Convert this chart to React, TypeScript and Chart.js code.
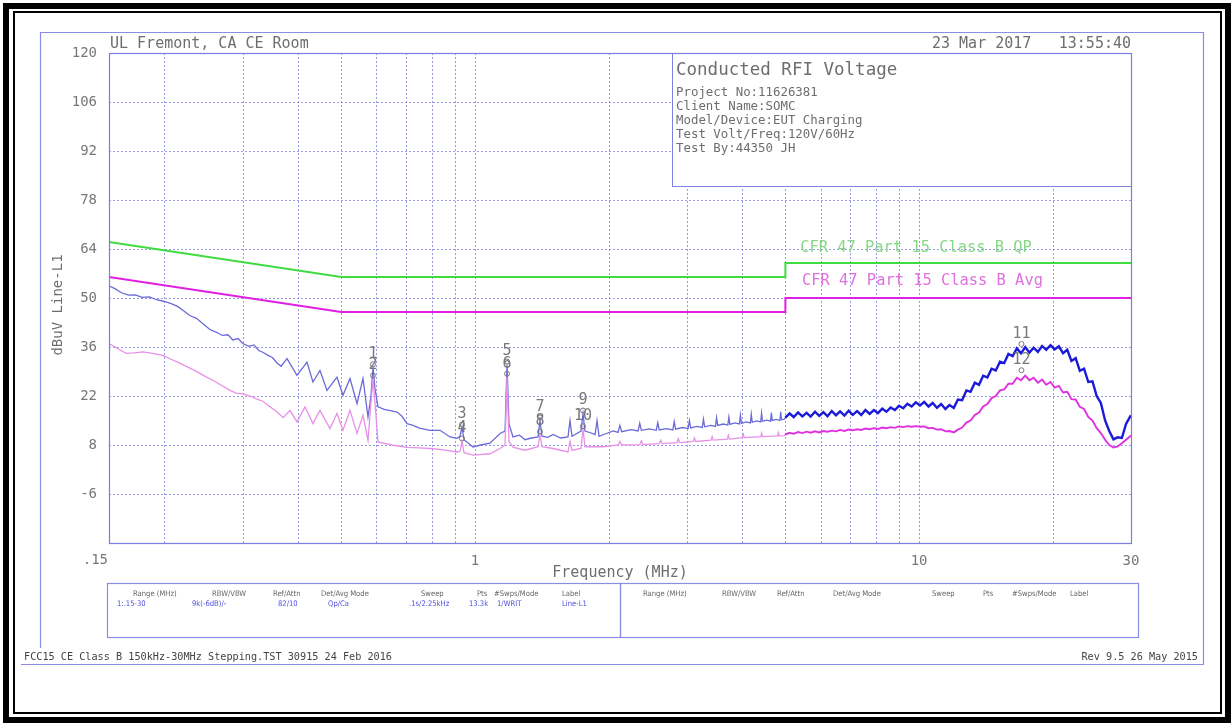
import { useEffect, useRef } from 'react';
import { Chart, registerables } from 'chart.js';
Chart.register(...registerables);

const MONO = '"DejaVu Sans Mono", monospace';
const NARROW = '"Liberation Sans Narrow", "DejaVu Sans Condensed", "DejaVu Sans", sans-serif';

// ---- data (MHz, dBuV) ----
const qpFreqLow = [0.15, 0.155, 0.16, 0.166, 0.172, 0.178, 0.185, 0.192, 0.2, 0.207, 0.214, 0.22, 0.228, 0.236, 0.245, 0.253, 0.262, 0.27, 0.278, 0.285, 0.293, 0.3, 0.31, 0.318, 0.326, 0.333, 0.342, 0.35, 0.358, 0.366, 0.3775, 0.3975, 0.4186, 0.4318, 0.4478, 0.4644, 0.4891, 0.5045, 0.5232, 0.5426, 0.5597, 0.5744, 0.5834, 0.5895, 0.5957, 0.605, 0.625, 0.645, 0.6677, 0.685, 0.7034, 0.725, 0.75, 0.7923, 0.8343, 0.8788, 0.9112, 0.9255, 0.9352, 0.9449, 0.99, 1.03, 1.081, 1.139, 1.169, 1.181, 1.193, 1.218, 1.26, 1.296, 1.34, 1.387, 1.401, 1.416, 1.46, 1.499, 1.56, 1.62, 1.637, 1.654, 1.733, 1.751, 1.769, 1.82, 1.864, 1.883, 1.903];
const qpLevelLow = [53.5, 52.6, 51.5, 50.8, 50.9, 50.2, 50.3, 49.5, 49.0, 48.4, 47.6, 46.5, 45.0, 44.2, 42.5, 41.0, 40.2, 39.3, 39.5, 38.0, 38.4, 37.0, 36.2, 36.6, 35.0, 34.5, 33.6, 33.0, 31.5, 30.5, 32.7, 27.9, 31.7, 26.0, 29.3, 23.6, 27.4, 22.2, 27.0, 19.8, 27.0, 16.0, 22.0, 30.2, 24.0, 18.9, 18.2, 17.8, 17.4, 16.2, 14.1, 13.6, 12.8, 12.2, 12.2, 10.3, 9.9, 10.5, 13.0, 9.5, 7.4, 8.0, 8.5, 11.3, 12.0, 31.0, 14.0, 10.3, 10.8, 9.5, 10.0, 10.3, 15.0, 10.5, 10.2, 11.0, 10.0, 10.3, 15.0, 10.5, 12.0, 17.0, 12.0, 11.5, 11.0, 15.0, 10.5];
const qpFreqMid = [1.95, 2.05, 2.1, 2.12, 2.14, 2.25, 2.33, 2.35, 2.37, 2.47, 2.56, 2.58, 2.6, 2.7, 2.79, 2.81, 2.83, 2.93, 3.02, 3.04, 3.06, 3.16, 3.25, 3.27, 3.29, 3.4, 3.48, 3.5, 3.52, 3.62, 3.71, 3.73, 3.75, 3.85, 3.94, 3.96, 3.98, 4.08, 4.17, 4.19, 4.21, 4.31, 4.4, 4.42, 4.44, 4.54, 4.63, 4.65, 4.67, 4.77, 4.86, 4.88, 4.9, 4.97];
const qpLevelMid = [11.0, 12.0, 11.6, 13.6, 11.8, 12.4, 12.0, 14.2, 12.2, 12.6, 12.2, 14.4, 12.3, 12.7, 12.3, 14.7, 12.5, 13.0, 12.7, 15.0, 12.9, 13.3, 13.0, 15.4, 13.2, 13.6, 13.3, 15.8, 13.6, 14.0, 13.7, 16.0, 13.9, 14.3, 14.0, 16.5, 14.2, 14.6, 14.3, 16.8, 14.5, 14.9, 14.6, 17.1, 14.8, 15.1, 14.8, 17.3, 15.0, 15.3, 15.0, 17.5, 15.2, 15.4];
const qpFreqHigh = [5.0, 5.11, 5.22, 5.34, 5.46, 5.58, 5.7, 5.83, 5.96, 6.09, 6.22, 6.36, 6.5, 6.64, 6.79, 6.94, 7.09, 7.25, 7.41, 7.57, 7.74, 7.91, 8.08, 8.26, 8.44, 8.63, 8.82, 9.01, 9.21, 9.41, 9.62, 9.83, 10.05, 10.27, 10.5, 10.73, 10.97, 11.21, 11.46, 11.71, 11.97, 12.23, 12.5, 12.78, 13.06, 13.35, 13.64, 13.94, 14.25, 14.56, 14.88, 15.21, 15.55, 15.89, 16.24, 16.6, 16.96, 17.34, 17.72, 18.11, 18.51, 18.92, 19.33, 19.76, 20.19, 20.64, 21.09, 21.56, 22.03, 22.52, 23.01, 23.52, 24.04, 24.57, 25.11, 25.66, 26.23, 26.8, 27.39, 28.0, 28.61, 29.24, 29.88, 30.0];
const qpLevelHigh = [15.8, 17.0, 16.0, 17.3, 16.2, 17.2, 16.1, 17.5, 16.3, 17.4, 16.2, 17.7, 16.5, 17.6, 16.4, 17.8, 16.6, 17.7, 16.6, 18.0, 16.9, 18.0, 17.1, 18.4, 17.5, 18.7, 18.0, 19.2, 18.5, 19.8, 19.0, 20.2, 19.3, 20.3, 19.0, 20.0, 18.6, 19.7, 18.3, 19.4, 18.6, 21.0, 20.8, 23.6, 23.2, 25.8, 25.2, 27.8, 27.3, 29.8, 29.3, 31.8, 31.4, 34.0, 33.4, 35.6, 34.2, 36.0, 34.4, 35.8, 34.6, 36.3, 35.2, 36.5, 35.3, 36.2, 34.2, 35.2, 32.0, 32.8, 29.2, 29.8, 26.0, 26.2, 22.0, 20.0, 15.0, 12.0, 9.6, 10.2, 10.0, 14.0, 16.2, 16.0];

const avFreqLow = [0.15, 0.157, 0.164, 0.171, 0.179, 0.188, 0.198, 0.207, 0.217, 0.227, 0.237, 0.247, 0.257, 0.269, 0.281, 0.29, 0.3, 0.312, 0.322, 0.333, 0.345, 0.358, 0.37, 0.3834, 0.3975, 0.4143, 0.4318, 0.4478, 0.4717, 0.4891, 0.5045, 0.5232, 0.5426, 0.5597, 0.5744, 0.5834, 0.5895, 0.5957, 0.605, 0.65, 0.7034, 0.75, 0.7923, 0.85, 0.9112, 0.9255, 0.9352, 0.9449, 0.99, 1.081, 1.139, 1.169, 1.181, 1.193, 1.218, 1.296, 1.387, 1.401, 1.416, 1.499, 1.62, 1.637, 1.654, 1.733, 1.751, 1.769, 1.903];
const avLevelLow = [37.0, 35.5, 34.2, 34.3, 34.6, 34.2, 33.6, 32.5, 31.3, 30.1, 28.9, 27.6, 26.5, 25.0, 23.6, 22.8, 22.6, 22.0, 21.2, 20.5, 19.0, 17.5, 15.8, 17.9, 14.6, 18.9, 14.1, 17.9, 12.7, 17.0, 12.2, 17.9, 11.3, 16.5, 9.3, 20.0, 27.0, 20.0, 8.9, 8.0, 7.3, 7.2, 7.0, 6.6, 6.0, 6.2, 9.0, 5.8, 5.1, 5.5, 7.0, 8.0, 27.5, 9.0, 7.4, 6.5, 7.5, 11.0, 7.5, 7.0, 6.0, 9.0, 6.5, 7.0, 12.5, 7.5, 7.5];
const avFreqMid = [1.95, 2.1, 2.12, 2.14, 2.35, 2.37, 2.39, 2.6, 2.62, 2.64, 2.85, 2.87, 2.89, 3.1, 3.12, 3.14, 3.4, 3.42, 3.44, 3.7, 3.72, 3.74, 4.0, 4.02, 4.04, 4.4, 4.42, 4.44, 4.8, 4.82, 4.84, 4.97];
const avLevelMid = [7.5, 8.0, 9.0, 8.0, 8.1, 9.2, 8.1, 8.4, 9.4, 8.4, 8.7, 9.8, 8.7, 9.0, 10.0, 9.0, 9.4, 10.4, 9.4, 9.7, 10.8, 9.7, 10.1, 11.0, 10.1, 10.4, 11.4, 10.4, 10.6, 11.5, 10.6, 10.7];
const avFreqHigh = [5.0, 5.11, 5.22, 5.34, 5.46, 5.58, 5.7, 5.83, 5.96, 6.09, 6.22, 6.36, 6.5, 6.64, 6.79, 6.94, 7.09, 7.25, 7.41, 7.57, 7.74, 7.91, 8.08, 8.26, 8.44, 8.63, 8.82, 9.01, 9.21, 9.41, 9.62, 9.83, 10.05, 10.27, 10.5, 10.73, 10.97, 11.21, 11.46, 11.71, 11.97, 12.23, 12.5, 12.78, 13.06, 13.35, 13.64, 13.94, 14.25, 14.56, 14.88, 15.21, 15.55, 15.89, 16.24, 16.6, 16.96, 17.34, 17.72, 18.11, 18.51, 18.92, 19.33, 19.76, 20.19, 20.64, 21.09, 21.56, 22.03, 22.52, 23.01, 23.52, 24.04, 24.57, 25.11, 25.66, 26.23, 26.8, 27.39, 28.0, 28.61, 29.24, 29.88, 30.0];
const avLevelHigh = [11.0, 11.5, 11.2, 11.7, 11.4, 11.8, 11.5, 11.9, 11.6, 12.0, 11.8, 12.1, 11.9, 12.3, 12.0, 12.4, 12.2, 12.5, 12.3, 12.7, 12.5, 12.8, 12.6, 13.0, 12.8, 13.1, 12.9, 13.3, 13.1, 13.4, 13.2, 13.4, 13.2, 13.3, 12.8, 12.9, 12.4, 12.5, 11.9, 12.0, 11.6, 12.4, 13.0, 14.4, 15.0, 16.6, 17.3, 19.0, 19.7, 21.4, 22.0, 23.6, 23.9, 25.5, 25.5, 27.2, 26.5, 27.8, 26.5, 27.2, 25.8, 26.7, 25.2, 26.0, 24.4, 24.9, 23.0, 23.2, 21.1, 21.0, 18.9, 18.3, 16.0, 15.0, 12.8, 11.4, 9.5, 8.0, 7.3, 7.6, 8.5, 9.5, 10.5, 10.8];

const qpLimitFreq = [0.15, 0.5, 5, 5, 30];
const qpLimitLevel = [66, 56, 56, 60, 60];
const avLimitFreq = [0.15, 0.5, 5, 5, 30];
const avLimitLevel = [56, 46, 46, 50, 50];

const gridFreqs = [0.15, 0.2, 0.3, 0.4, 0.5, 0.6, 0.7, 0.8, 0.9, 1, 2, 3, 4, 5, 6, 7, 8, 9, 10, 20, 30];
const xLabelFreqs = [0.15, 1, 10, 30];
const xLabelTexts = ['.15', '1', '10', '30'];
const yMin = -20;
const yMax = 120;
const yStep = 14;

const markerFreq = [0.5895, 0.5895, 0.9352, 0.9352, 1.181, 1.181, 1.401, 1.401, 1.751, 1.751, 17.0, 17.0];
const markerLevel = [30.2, 27.0, 13.0, 9.0, 31.0, 27.5, 15.0, 11.0, 17.0, 12.5, 36.0, 28.5];
const markerText = ['1', '2', '3', '4', '5', '6', '7', '8', '9', '10', '11', '12'];

const infoTitle = 'Conducted RFI Voltage';
const infoLines = ['Project No:11626381', 'Client Name:SOMC', 'Model/Device:EUT Charging', 'Test Volt/Freq:120V/60Hz', 'Test By:44350 JH'];
const tableHeaders = ['Range (MHz)', 'RBW/VBW', 'Ref/Attn', 'Det/Avg Mode', 'Sweep', 'Pts', '#Swps/Mode', 'Label'];
const tableValues = ['1:.15-30', '9k(-6dB)/-', '82/10', 'Qp/Ca', '.1s/2.25kHz', '13.3k', '1/WRIT', 'Line-L1'];

const W = 1231;
const H = 723;
const TXT = '#6e6e6e';

function txt(ctx: CanvasRenderingContext2D, s: string, x: number, y: number, font: string, color: string, align: CanvasTextAlign = 'left') {
  ctx.save();
  ctx.font = font;
  ctx.fillStyle = color;
  ctx.textAlign = align;
  ctx.textBaseline = 'middle';
  ctx.fillText(s, x, y);
  ctx.restore();
}

const decor = {
  id: 'decor',
  beforeDraw(chart: any) {
    const ctx = chart.ctx;
    ctx.save();
    ctx.fillStyle = '#ffffff';
    ctx.fillRect(0, 0, W, H);
    ctx.restore();
  },
  beforeDatasetsDraw(chart: any) {
    const { ctx, chartArea: a, scales } = chart;
    const xs = scales.x;
    const ys = scales.y;
    ctx.save();
    ctx.strokeStyle = '#9a9aec';
    ctx.lineWidth = 1;
    ctx.setLineDash([2, 2]);
    for (const f of gridFreqs) {
      const px = Math.round(xs.getPixelForValue(f)) + 0.5;
      ctx.beginPath();
      ctx.moveTo(px, a.top);
      ctx.lineTo(px, a.bottom);
      ctx.stroke();
    }
    for (let v = yMin; v <= yMax; v += yStep) {
      const py = Math.round(ys.getPixelForValue(v)) + 0.5;
      ctx.beginPath();
      ctx.moveTo(a.left, py);
      ctx.lineTo(a.right, py);
      ctx.stroke();
    }
    ctx.setLineDash([]);
    const bx = 672, by = a.top, bw = a.right - 672, bh = 186 - a.top;
    ctx.fillStyle = '#ffffff';
    ctx.fillRect(bx, by, bw, bh);
    ctx.strokeStyle = '#8080e0';
    ctx.strokeRect(bx + 0.5, by + 0.5, bw, bh);
    ctx.restore();
    txt(ctx, infoTitle, 676, 70, `17.5px ${MONO}`, TXT);
    infoLines.forEach((s, i) => txt(ctx, s, 676, 93 + i * 13.9, `12.4px ${MONO}`, TXT));
    txt(ctx, 'CFR 47 Part 15 Class B QP', xs.getPixelForValue(5.4), ys.getPixelForValue(64.3), `15.4px ${MONO}`, '#86d886');
    txt(ctx, 'CFR 47 Part 15 Class B Avg', xs.getPixelForValue(5.45), ys.getPixelForValue(55), `15.4px ${MONO}`, '#e070e0');
  },
  afterDatasetsDraw(chart: any) {
    const { ctx, chartArea: a, scales } = chart;
    const xs = scales.x;
    const ys = scales.y;
    markerFreq.forEach((f, i) => {
      const px = xs.getPixelForValue(f);
      const py = ys.getPixelForValue(markerLevel[i]);
      ctx.save();
      ctx.strokeStyle = '#787878';
      ctx.lineWidth = 1;
      ctx.beginPath();
      ctx.arc(px, py - 3, 2.5, 0, Math.PI * 2);
      ctx.stroke();
      ctx.restore();
      txt(ctx, markerText[i], px, py - 13, `15px ${MONO}`, '#787878', 'center');
    });
    ctx.save();
    ctx.strokeStyle = '#7c7ce0';
    ctx.lineWidth = 1.2;
    ctx.strokeRect(Math.round(a.left) + 0.5, Math.round(a.top) + 0.5, Math.round(a.right - a.left), Math.round(a.bottom - a.top));
    ctx.restore();
  },
  afterDraw(chart: any) {
    const { ctx, chartArea: a, scales } = chart;
    ctx.save();
    ctx.strokeStyle = '#000000';
    ctx.lineWidth = 6;
    ctx.strokeRect(6, 6, W - 9, H - 9);
    ctx.lineWidth = 2;
    ctx.strokeRect(14, 12, W - 24, H - 22);
    ctx.strokeStyle = '#8c8ce6';
    ctx.lineWidth = 1.2;
    ctx.beginPath();
    ctx.moveTo(40.5, 648);
    ctx.lineTo(40.5, 32.5);
    ctx.lineTo(1203.5, 32.5);
    ctx.lineTo(1203.5, 664.5);
    ctx.lineTo(21, 664.5);
    ctx.stroke();
    ctx.strokeRect(107.5, 583.5, 513, 54);
    ctx.strokeRect(620.5, 583.5, 518, 54);
    ctx.restore();
    // first x label sits flush left of the axis start
    txt(ctx, xLabelTexts[0], scales.x.getPixelForValue(xLabelFreqs[0]) - 1, 560, `14px ${MONO}`, '#777777', 'right');
    txt(ctx, 'UL Fremont, CA CE Room', a.left + 1, 44, `15px ${MONO}`, TXT);
    txt(ctx, '23 Mar 2017', 932, 44, `15px ${MONO}`, TXT);
    txt(ctx, '13:55:40', a.right, 44, `15px ${MONO}`, TXT, 'right');
    txt(ctx, 'Frequency (MHz)', (a.left + a.right) / 2, 573, `15px ${MONO}`, TXT, 'center');
    ctx.save();
    ctx.translate(58, 305);
    ctx.rotate(-Math.PI / 2);
    txt(ctx, 'dBuV Line-L1', 0, 0, `14px ${MONO}`, TXT, 'center');
    ctx.restore();
    const leftCols = [133, 212, 273, 321, 421, 477, 494, 562];
    const leftVals = [117, 192, 278, 328, 409, 469, 497, 562];
    const rightCols = [643, 722, 777, 833, 932, 983, 1012, 1070];
    tableHeaders.forEach((s, i) => {
      txt(ctx, s, leftCols[i], 594, `7.6px ${NARROW}`, '#666666');
      txt(ctx, s, rightCols[i], 594, `7.6px ${NARROW}`, '#666666');
      txt(ctx, tableValues[i], leftVals[i], 604, `7.6px ${NARROW}`, '#5050e0');
    });
    txt(ctx, 'FCC15 CE Class B 150kHz-30MHz Stepping.TST 30915 24 Feb 2016', 24, 657, `10.2px ${MONO}`, '#444444');
    txt(ctx, 'Rev 9.5 26 May 2015', 1198, 657, `10.2px ${MONO}`, '#444444', 'right');
  },
};

function pts(fs: number[], vs: number[]) {
  return fs.map((f, i) => ({ x: f, y: vs[i] }));
}

export default function App() {
  const ref = useRef<HTMLCanvasElement | null>(null);
  useEffect(() => {
    document.body.style.margin = '0';
    const canvas = ref.current!;
    const qpData = [...pts(qpFreqLow, qpLevelLow), ...pts(qpFreqMid, qpLevelMid), ...pts(qpFreqHigh, qpLevelHigh)];
    const avData = [...pts(avFreqLow, avLevelLow), ...pts(avFreqMid, avLevelMid), ...pts(avFreqHigh, avLevelHigh)];
    const chart = new Chart(canvas, {
      type: 'line',
      data: {
        datasets: [
          { label: 'QP limit', data: pts(qpLimitFreq, qpLimitLevel), borderColor: '#3edc3e', borderWidth: 2, pointRadius: 0, tension: 0 },
          { label: 'Avg limit', data: pts(avLimitFreq, avLimitLevel), borderColor: '#e020e0', borderWidth: 2, pointRadius: 0, tension: 0 },
          {
            label: 'Avg', data: avData, borderWidth: 1.3, pointRadius: 0, tension: 0, borderColor: '#e050e0',
            segment: {
              borderColor: (c: any) => (c.p0.parsed.x < 5 ? '#e890e8' : '#e030e0'),
              borderWidth: (c: any) => (c.p0.parsed.x < 5 ? 1.3 : 1.9),
            },
          },
          {
            label: 'Peak', data: qpData, borderWidth: 1.3, pointRadius: 0, tension: 0, borderColor: '#3030d0',
            segment: {
              borderColor: (c: any) => (c.p0.parsed.x < 5 ? '#6a6ad8' : '#1a1ad8'),
              borderWidth: (c: any) => (c.p0.parsed.x < 5 ? 1.3 : 2.4),
            },
          },
        ],
      },
      options: {
        animation: false,
        responsive: false,
        maintainAspectRatio: false,
        parsing: false as any,
        layout: { padding: { left: 49, right: 100, top: 53, bottom: 150 } },
        plugins: { legend: { display: false }, tooltip: { enabled: false }, title: { display: false } },
        scales: {
          x: {
            type: 'logarithmic',
            min: 0.15,
            max: 30,
            afterFit: (s: any) => { s.height = 30; },
            afterBuildTicks: (s: any) => { s.ticks = gridFreqs.map((v) => ({ value: v })); },
            grid: { display: false },
            border: { display: false },
            ticks: {
              autoSkip: false,
              maxRotation: 0,
              padding: 2,
              color: '#777777',
              font: { family: MONO, size: 14 },
              callback: (v: any) => {
                const i = xLabelFreqs.findIndex((f) => Math.abs(f - Number(v)) < 1e-6);
                return i > 0 ? xLabelTexts[i] : '';
              },
            },
          },
          y: {
            type: 'linear',
            min: yMin,
            max: yMax,
            afterFit: (s: any) => { s.width = 60; },
            grid: { display: false },
            border: { display: false },
            ticks: {
              stepSize: yStep,
              padding: 4,
              color: '#777777',
              font: { family: MONO, size: 14 },
              callback: (v: any) => (Number(v) === yMin ? '' : String(v)),
            },
          },
        },
      },
      plugins: [decor],
    });
    return () => chart.destroy();
  }, []);
  return (
    <div style={{ position: 'absolute', left: 0, top: 0, width: W, height: H }}>
      <canvas ref={ref} width={W} height={H} style={{ display: 'block', width: W, height: H }} />
    </div>
  );
}
